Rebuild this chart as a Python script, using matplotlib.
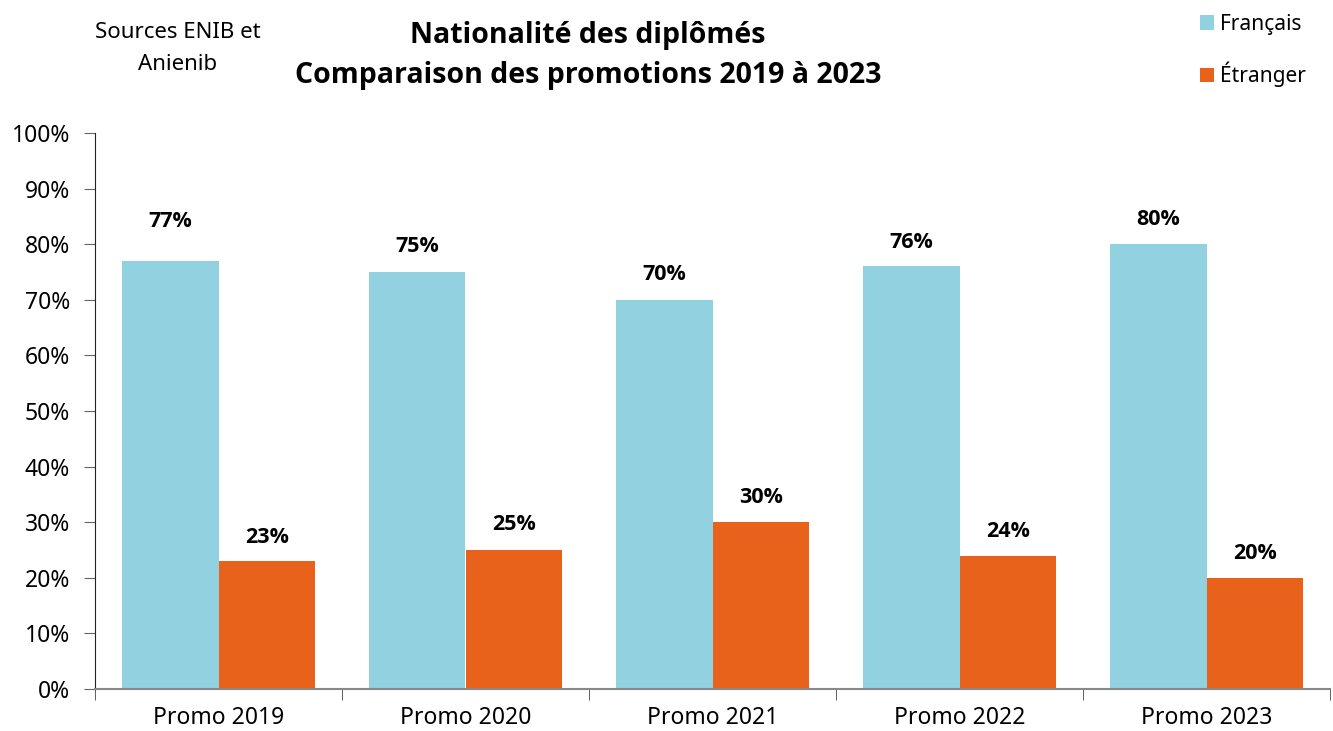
import matplotlib.pyplot as plt
import numpy as np

plt.rcParams['font.family'] = ['Noto Sans', 'DejaVu Sans']
BOLD = ['Open Sans', 'DejaVu Sans']

# Data
promos = ['Promo 2019', 'Promo 2020', 'Promo 2021', 'Promo 2022', 'Promo 2023']
francais = [77, 75, 70, 76, 80]
etranger = [23, 25, 30, 24, 20]

COL_FR = '#92D2E0'
COL_ET = '#E8621C'

# label offsets above bar tops (in % units), as placed in the original
off_fr = [7.0, 4.5, 4.5, 4.3, 4.5]
off_et = [4.3, 4.5, 4.5, 4.3, 4.3]

fig = plt.figure(figsize=(13.33, 7.31), dpi=100)
ax = fig.add_axes([95 / 1333, 1 - 689 / 731, (1330 - 95) / 1333, (689 - 133) / 731])

x = np.arange(len(promos))
w = 0.39
b1 = ax.bar(x - w / 2, francais, w, color=COL_FR, label='Français')
b2 = ax.bar(x + w / 2, etranger, w, color=COL_ET, label='Étranger')

for bars, vals, offs in ((b1, francais, off_fr), (b2, etranger, off_et)):
    for r, v, o in zip(bars, vals, offs):
        ax.text(r.get_x() + r.get_width() / 2, v + o, f'{v}%', family=BOLD,
                ha='center', va='center', fontsize=15.5, fontweight='bold')

ax.set_xlim(-0.5, len(promos) - 0.5)
ax.set_ylim(0, 100)
ax.set_yticks(range(0, 101, 10))
ax.set_yticklabels([f'{t}%' for t in range(0, 101, 10)])
ax.set_xticks(x)
ax.set_xticklabels(promos)
ax.set_xticks(np.arange(-0.5, len(promos), 1), minor=True)
ax.tick_params(axis='x', which='major', length=0, labelsize=16.5, pad=12)
ax.tick_params(axis='x', which='minor', length=8, direction='out', color='#444444')
ax.tick_params(axis='y', length=8, direction='out', labelsize=16.5, color='#666666', pad=10)

for s in ('top', 'right'):
    ax.spines[s].set_visible(False)
ax.spines['left'].set_color('#222222')
ax.spines['bottom'].set_color('#888888')
ax.spines['bottom'].set_linewidth(1.5)

fig.text(588 / 1333, 1 - 35 / 731, 'Nationalité des diplômés', ha='center', va='center',
         fontsize=20.5, fontweight='bold', family=BOLD)
fig.text(588 / 1333, 1 - 75 / 731, 'Comparaison des promotions 2019 à 2023', ha='center', va='center',
         fontsize=20.5, fontweight='bold', family=BOLD)
fig.text(178 / 1333, 1 - 33 / 731, 'Sources ENIB et', ha='center', va='center', fontsize=16)
fig.text(178 / 1333, 1 - 65 / 731, 'Anienib', ha='center', va='center', fontsize=16)

fig.legend(handles=[b1, b2], loc='upper left', bbox_to_anchor=(1181 / 1333, 1 + 5 / 731),
           frameon=False, fontsize=15, handlelength=0.7, handleheight=0.7,
           handletextpad=0.25, labelspacing=1.3)

plt.savefig('out.png', dpi=100)
